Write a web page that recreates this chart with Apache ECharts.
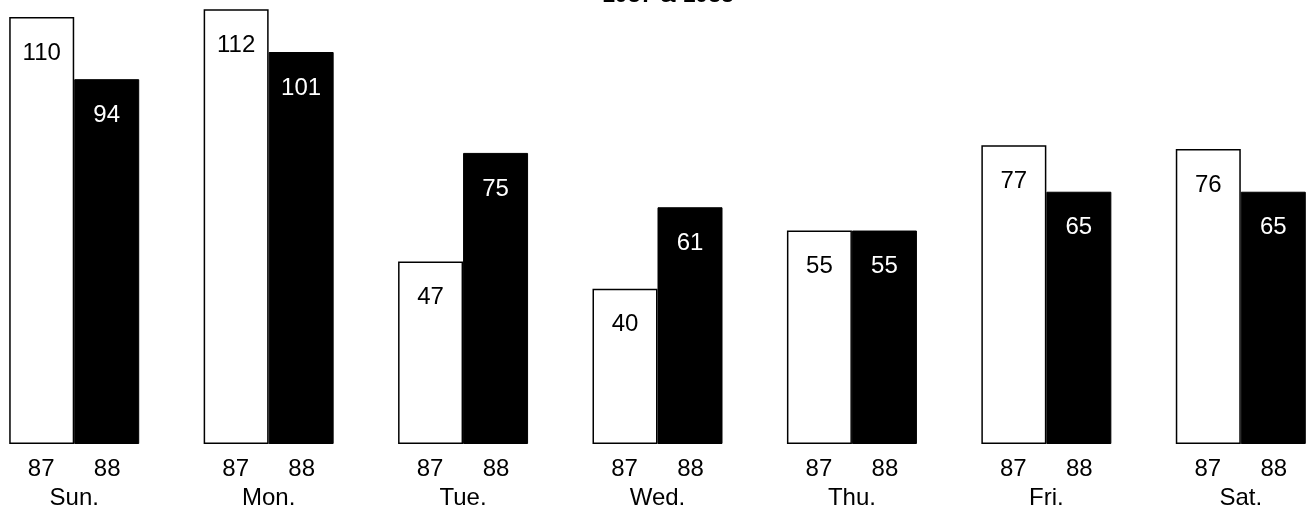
<!DOCTYPE html>
<html>
<head>
<meta charset="utf-8">
<script src="https://cdn.jsdelivr.net/npm/echarts@6/dist/echarts.min.js"></script>
<style>html,body{margin:0;padding:0;background:#fff;}#c{width:1306px;height:512px;}</style>
</head>
<body>
<div id="c"></div>
<script>
var categories = ['Sun.', 'Mon.', 'Tue.', 'Wed.', 'Thu.', 'Fri.', 'Sat.'];
var yearLabels = ['87', '88'];
var values1987 = [110, 112, 47, 40, 55, 77, 76];
var values1988 = [94, 101, 75, 61, 55, 65, 65];
var titleText = '1987 & 1988';

var chart = echarts.init(document.getElementById('c'));
var font = 'Liberation Sans, Arial, sans-serif';
chart.setOption({
  animation: false,
  backgroundColor: '#fff',
  title: {
    text: titleText, left: 663, top: -21, textAlign: 'center',
    textStyle: { fontFamily: font, fontSize: 23, fontWeight: 'bold', color: '#000' }
  },
  grid: { left: -23, width: 1361, top: 0, height: 444, containLabel: false, outerBoundsMode: 'none' },
  xAxis: {
    type: 'category', data: categories,
    axisLine: { show: false }, axisTick: { show: false },
    axisLabel: {
      interval: 0, margin: 11,
      formatter: function (v) { return '{a|' + yearLabels[0] + '}{a|' + yearLabels[1] + '}\n{b|' + v + '}'; },
      rich: {
        a: { width: 66, align: 'center', fontFamily: font, fontSize: 24, color: '#000', lineHeight: 29 },
        b: { align: 'center', fontFamily: font, fontSize: 24, color: '#000', lineHeight: 29 }
      }
    }
  },
  yAxis: { type: 'value', min: 0, max: 114.4, show: false, splitLine: { show: false } },
  series: [
    {
      name: '1987', type: 'bar', data: values1987, barWidth: 65, barGap: '0%',
      itemStyle: { color: '#fff', borderColor: '#000', borderWidth: 1.5 },
      label: { show: true, position: 'insideTop', distance: 24, color: '#000', fontFamily: font, fontSize: 24 }
    },
    {
      name: '1988', type: 'bar', data: values1988, barWidth: 65,
      itemStyle: { color: '#000', borderColor: '#000', borderWidth: 1 },
      label: { show: true, position: 'insideTop', distance: 24, color: '#fff', fontFamily: font, fontSize: 24 }
    }
  ]
});
</script>
</body>
</html>
